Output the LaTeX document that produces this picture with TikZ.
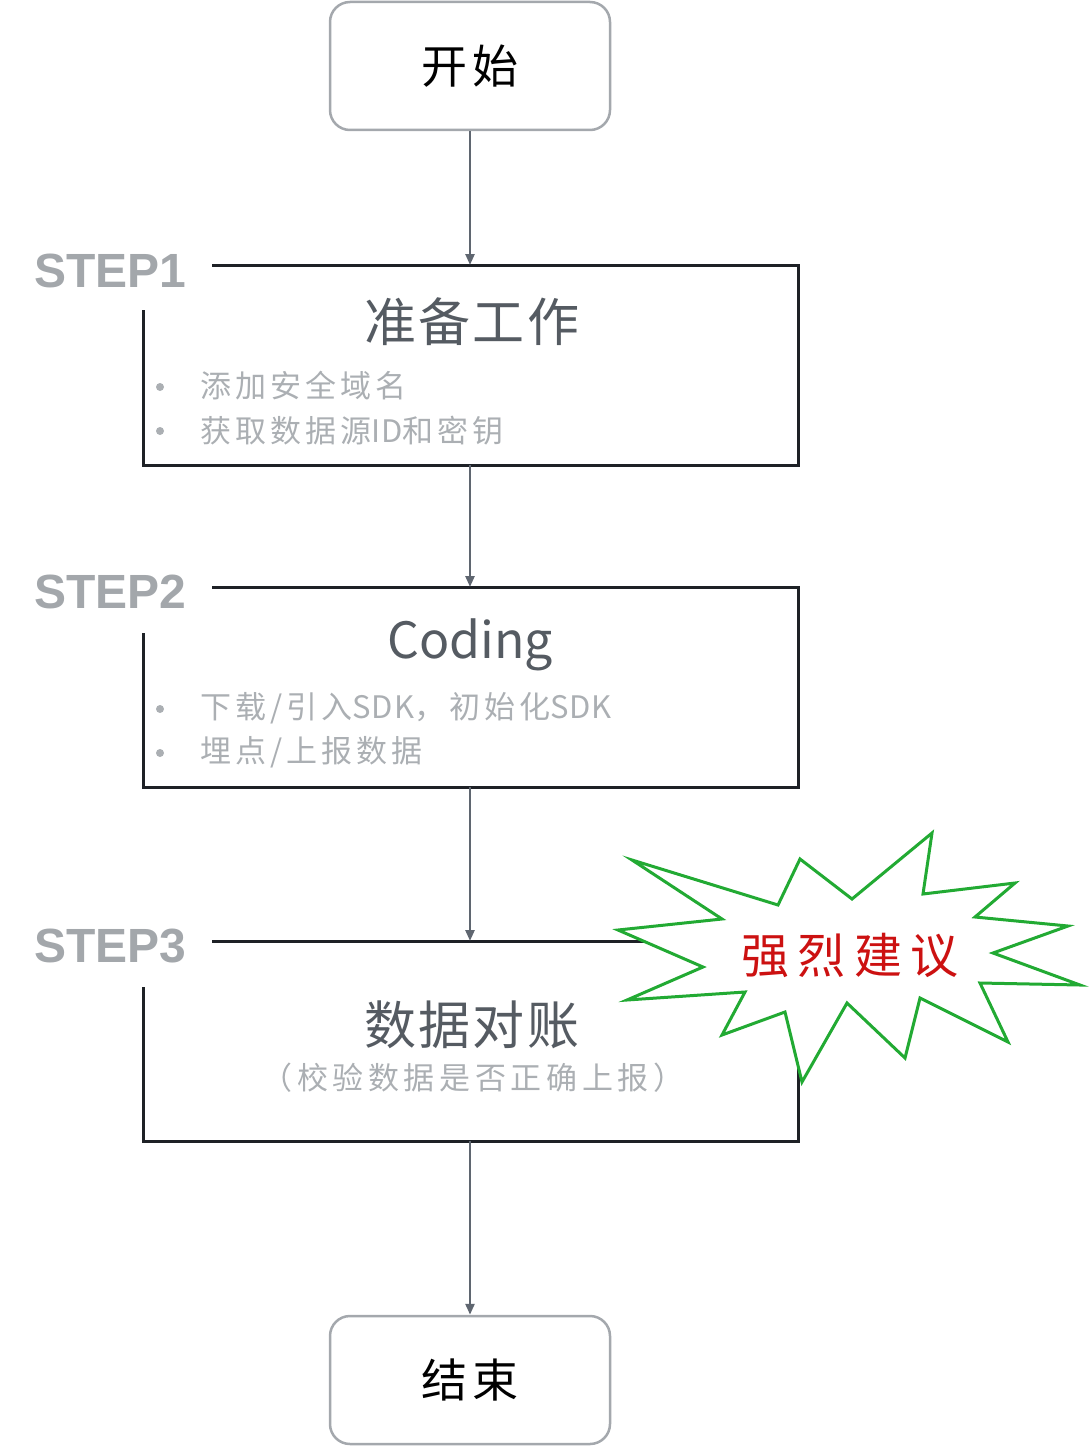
\documentclass[tikz,border=0pt]{standalone}
\usepackage{fontspec}
\setmainfont{Liberation Sans}
\newfontfamily\cjk{Noto Sans CJK SC}
\usetikzlibrary{arrows.meta}
\definecolor{boxline}{HTML}{1E2126}
\definecolor{arrowc}{HTML}{5F6670}
\definecolor{termline}{HTML}{A4A8AD}
\definecolor{titlec}{HTML}{555B62}
\definecolor{bulletc}{HTML}{ABAFB3}
\definecolor{stepc}{HTML}{A3A7AB}
\definecolor{burstc}{HTML}{22AA33}
\definecolor{redc}{HTML}{CC1111}
\newcommand{\fs}[1]{\fontsize{#1}{#1}\selectfont}
\newcommand{\ls}[1]{\addfontfeatures{LetterSpace=#1}}
\newcommand{\lat}[1]{{\cjk\addfontfeatures{LetterSpace=3}#1}}
\tikzset{
  term/.style={draw=termline, line width=2.5pt, rounded corners=20pt, fill=white, minimum width=280pt, minimum height=128pt, inner sep=0pt, font=\cjk\fs{46}\ls{12}, text=black},
  conn/.style={draw=arrowc, line width=2.5pt, -{Triangle[length=11pt,width=9pt]}},
  frame/.style={draw=boxline, line width=3pt},
  steplabel/.style={font=\bfseries\fs{48}, text=stepc, anchor=west, inner sep=0pt},
  title/.style={font=\cjk\fs{52}\ls{4}, text=titlec, inner sep=0pt},
  bul/.style={font=\cjk\fs{31}\ls{13}, text=bulletc, anchor=west, inner sep=0pt},
  dot/.style={circle, fill=bulletc, draw=none, minimum size=8pt, inner sep=0pt},
}
\begin{document}
\begin{tikzpicture}[x=1pt,y=-1pt]
\useasboundingbox (0,0) rectangle (1088,1450);
% terminals
\node[term] (start) at (470,66) {开始};
\node[term] (end) at (470,1380) {结束};
% frames
\coordinate (b1tl) at (212,265); \coordinate (b1r) at (798,265);
\coordinate (b1br) at (798,465); \coordinate (b1bl) at (143,465);
\coordinate (b1l) at (143,310);
\draw[frame] (b1tl) -- (b1r) -- (b1br) -- (b1bl) -- (b1l);
\coordinate (b2tl) at (212,587); \coordinate (b2r) at (798,587);
\coordinate (b2br) at (798,787); \coordinate (b2bl) at (143,787);
\coordinate (b2l) at (143,633);
\draw[frame] (b2tl) -- (b2r) -- (b2br) -- (b2bl) -- (b2l);
\coordinate (b3tl) at (212,941); \coordinate (b3r) at (798,941);
\coordinate (b3br) at (798,1141); \coordinate (b3bl) at (143,1141);
\coordinate (b3l) at (143,987);
\draw[frame] (b3tl) -- (b3r) -- (b3br) -- (b3bl) -- (b3l);
% connector end points
\coordinate (t1) at (470,265); \coordinate (s1) at (470,465);
\coordinate (t2) at (470,587); \coordinate (s2) at (470,787);
\coordinate (t3) at (470,941); \coordinate (s3) at (470,1141);
\draw[conn] (start.south) -- (t1);
\draw[conn] (s1) -- (t2);
\draw[conn] (s2) -- (t3);
\draw[conn] (s3) -- (end.north);
% step labels
\node[steplabel] (l1) at (34,271) {STEP1};
\node[steplabel] (l2) at (34,592) {STEP2};
\node[steplabel] (l3) at (34,946) {STEP3};
% box 1
\node[title] (h1) at (472,322) {准备工作};
\node[dot] (d11) at (160,387) {};
\node[dot] (d12) at (160,431) {};
\node[bul] (i11) at (200,386) {添加安全域名};
\node[bul] (i12) at (200,431) {获取数据源\lat{ID}和密钥};
% box 2
\node[font=\cjk\fs{50}, text=titlec, inner sep=0pt] (h2) at (470,645) {Coding};
\node[dot] (d21) at (160,709) {};
\node[dot] (d22) at (160,753) {};
\node[bul] (i21) at (200,708) {下载/引入\lat{SDK}，初始化\lat{SDK}};
\node[bul] (i22) at (200,752) {埋点/上报数据};
% box 3
\node[title] (h3) at (472,1025) {数据对账};
\node[font=\cjk\fs{31}\ls{15}, text=bulletc, inner sep=0pt] (h3s) at (473,1078) {（校验数据是否正确上报）};
% starburst
\draw[draw=burstc, fill=white, line width=3pt, line join=miter]
 (632,860) -- (778,905) -- (800,859) -- (852,899) -- (932,833) -- (923,894)
 -- (1015,883) -- (975,917) -- (1068,926) -- (993,953) -- (1080,985)
 -- (980,983) -- (1008,1042) -- (920,998) -- (905,1058) -- (847,1003)
 -- (802,1082) -- (785,1012) -- (722,1035) -- (745,992) -- (627,1000)
 -- (703,967) -- (618,930) -- (722,919) -- cycle;
\node[font=\cjk\fs{48}\ls{17}, text=redc, inner sep=0pt] (warn) at (850,955) {强烈建议};
\end{tikzpicture}
\end{document}
